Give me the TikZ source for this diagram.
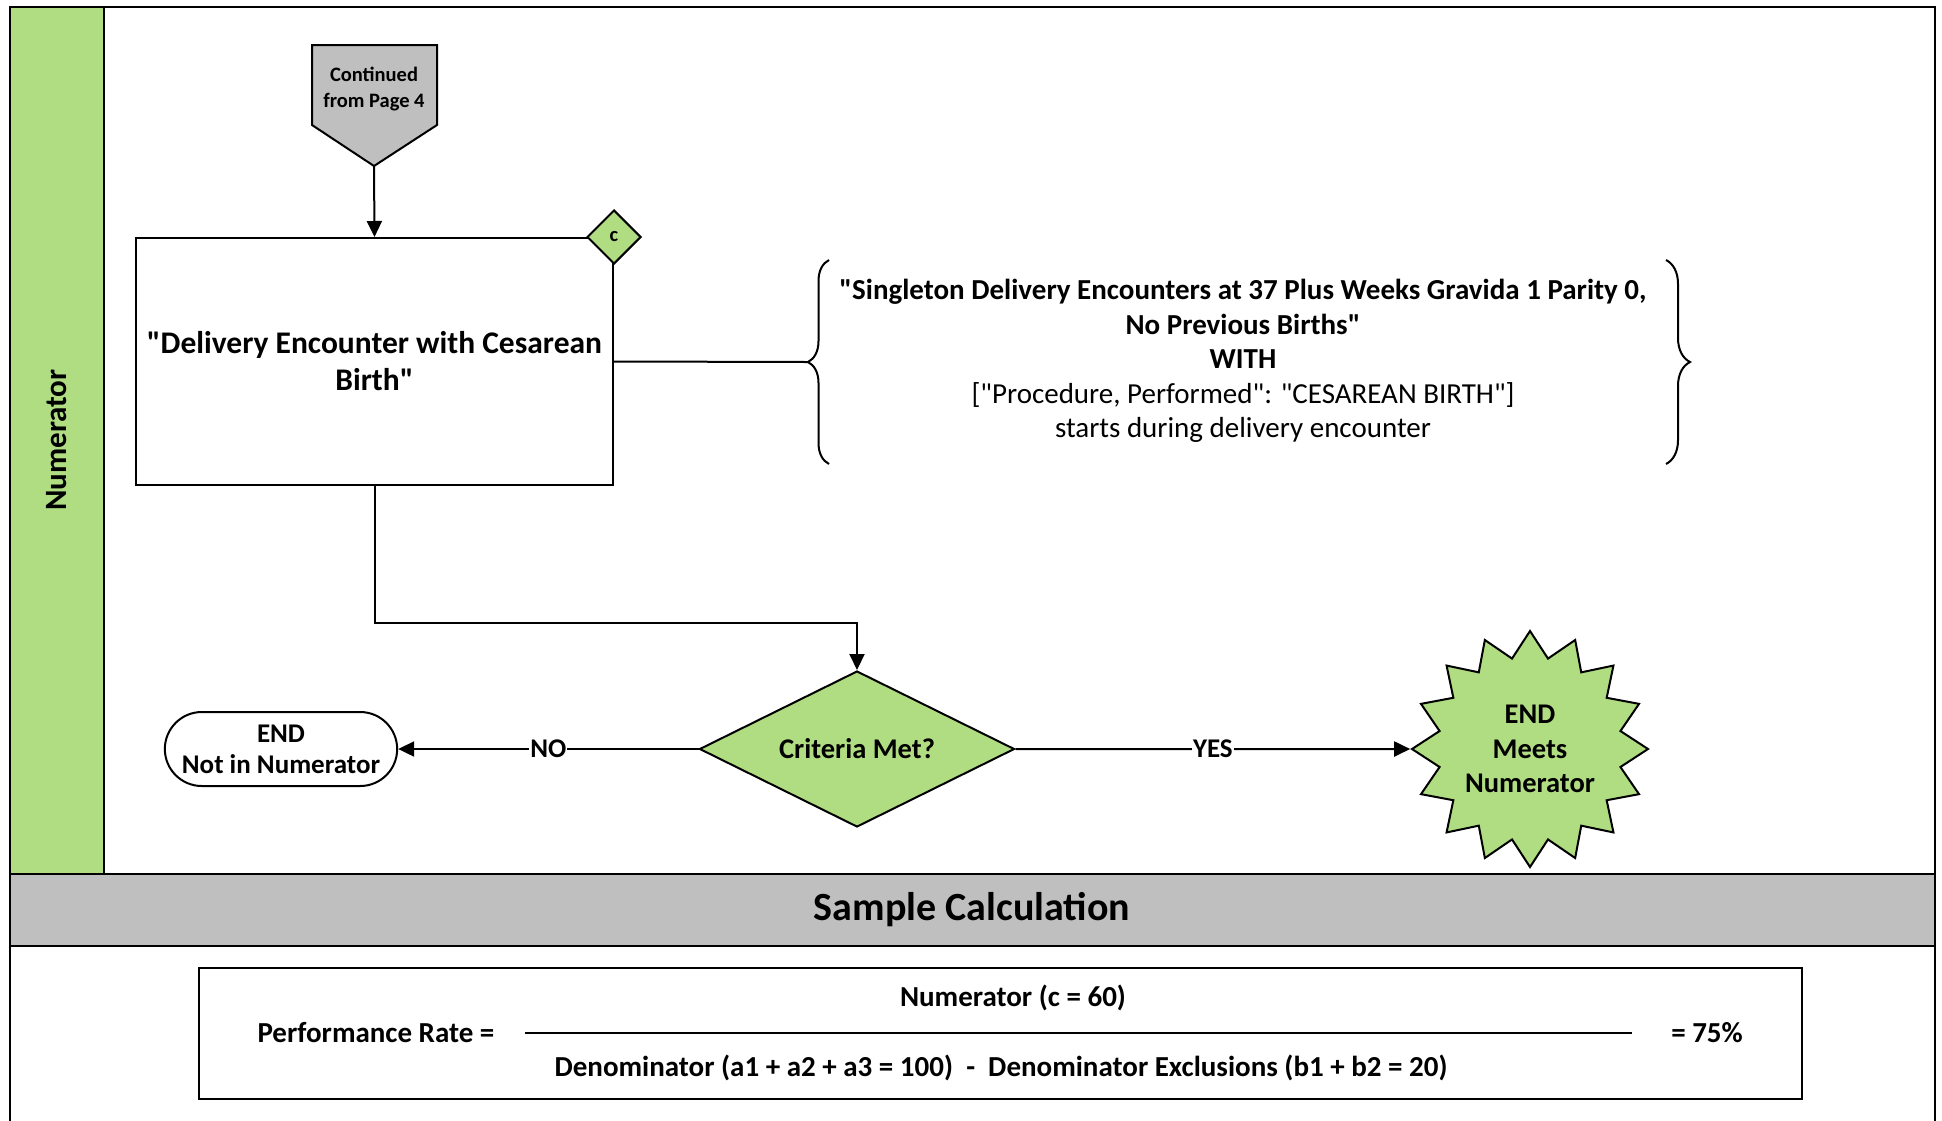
\documentclass[tikz,border=0pt]{standalone}
\usepackage{fontspec}
\setmainfont{Carlito}[Ligatures=TeXOff]
\usetikzlibrary{arrows.meta,shapes.geometric,shapes.misc,decorations.pathreplacing}

\definecolor{lanegreen}{RGB}{176,221,130}
\definecolor{bargray}{RGB}{191,191,191}

\newcommand{\contfnt}{\bfseries\fontsize{20.5}{26}\selectfont}
\newcommand{\boxfnt}{\bfseries\fontsize{31.5}{37}\selectfont}
\newcommand{\lanefnt}{\bfseries\fontsize{31}{37}\selectfont}
\newcommand{\bracefnt}{\fontsize{29}{34.5}\selectfont}
\newcommand{\shapefnt}{\bfseries\fontsize{27}{31}\selectfont}
\newcommand{\critfnt}{\bfseries\fontsize{28.5}{31}\selectfont}
\newcommand{\starfnt}{\bfseries\fontsize{28.5}{34.5}\selectfont}
\newcommand{\headfnt}{\bfseries\fontsize{40}{44}\selectfont}
\newcommand{\calcfnt}{\bfseries\fontsize{29}{30}\selectfont}

\tikzset{
  flowline/.style={line width=2pt},
  flowarrow/.style={flowline,-{Triangle[length=16pt,width=15pt]}},
  greenfill/.style={draw,flowline,fill=lanegreen},
  lbl/.style={fill=white,inner sep=1pt,font=\shapefnt}
}

\begin{document}
\begin{tikzpicture}[x=1pt,y=-1pt]
  \useasboundingbox (0,0) rectangle (1942,1120);
  % Drawing frame and swim lane
  \draw[line width=2.5pt] (10,1125) -- (10,7) -- (1935,7) -- (1935,1125);
  \draw[fill=lanegreen, line width=2.5pt] (10,7) rectangle (104,874);
  \node[rotate=90, font=\lanefnt] (lanename) at (57,440) {Numerator};
  \draw[fill=bargray, line width=2.5pt] (10,874) rectangle (1935,946);
  \node[font=\headfnt] (samplehead) at (972,910) {Sample Calculation};

  % Off-page connector
  \draw[flowline, fill=bargray] (312,45) -- (437,45) -- (437,125) -- (374,166) -- (312,125) -- cycle;
  \node[align=center, font=\contfnt] (contd) at (374,89) {Continued\\from Page 4};
  \coordinate (contdtip) at (374,166);

  % Delivery encounter box
  \node[draw, flowline, minimum width=477pt, minimum height=247pt, align=center, font=\boxfnt]
    (deliv) at (374.5,361.5) {"Delivery Encounter with Cesarean\\Birth"};
  \node[diamond, greenfill, minimum width=54pt, minimum height=54pt, inner sep=0pt, font=\contfnt]
    (cflag) at (deliv.north east) {c};
  \draw[flowarrow] (contdtip) -- (deliv.north);

  % Criteria in braces
  \coordinate (lbrace) at (808,362);
  \draw[flowline] (deliv.east) -- (lbrace);
  \draw[flowline, decorate, decoration={brace, amplitude=21pt}] (829,464) -- (829,260);
  \draw[flowline, decorate, decoration={brace, amplitude=24pt}] (1666,260) -- (1666,464);
  \node[align=center, font=\bracefnt] (critext) at (1243,361)
    {\textbf{"Singleton Delivery Encounters at 37 Plus Weeks Gravida 1 Parity 0,}\\
     \textbf{No Previous Births"}\\
     \textbf{WITH}\\
     {["Procedure, Performed": "CESAREAN BIRTH"]}\\
     starts during delivery encounter};

  % Decision and end points
  \node[diamond, aspect=2, greenfill, minimum width=315pt, minimum height=156pt, inner sep=0pt, font=\critfnt]
    (crit) at (857,749) {Criteria Met?};
  \coordinate (elbow) at (857,623);
  \draw[flowarrow] (deliv.south) |- (elbow) -- (crit.north);

  \node[rounded rectangle, draw, flowline, minimum width=239pt, minimum height=74pt, align=center, font=\shapefnt]
    (notnum) at (281,749) {END\\Not in Numerator};
  \node[star, star points=16, star point ratio=1.28, greenfill, minimum size=236pt, inner sep=0pt,
    align=center, font=\starfnt] (meets) at (1530,749) {END\\Meets\\Numerator};

  \draw[flowarrow] (crit.west) -- node[lbl] {NO} (notnum.east);
  \draw[flowarrow] (crit.east) -- node[lbl] {YES} (meets.west);

  % Sample calculation
  \node[draw, line width=2.5pt, minimum width=1603pt, minimum height=131pt] (calcbox) at (1000.5,1033.5) {};
  \node[font=\calcfnt] (numtext) at (1013,998) {Numerator (c = 60)};
  \node[font=\calcfnt] (ratetext) at (376,1033) {Performance Rate =};
  \node[font=\calcfnt] (pcttext) at (1707,1033) {= 75\%};
  \node[font=\calcfnt] (dentext) at (1001,1068)
    {Denominator (a1 + a2 + a3 = 100) \ - \ Denominator Exclusions (b1 + b2 = 20)};
  \coordinate (fracl) at (525,1033);
  \coordinate (fracr) at (1632,1033);
  \draw[flowline] (fracl) -- (fracr);
\end{tikzpicture}
\end{document}
